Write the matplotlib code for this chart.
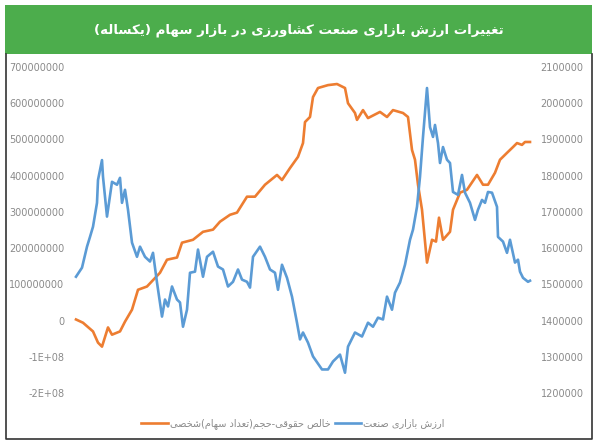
import matplotlib
matplotlib.use('Agg')
import matplotlib.pyplot as plt
from matplotlib.patches import Rectangle
from matplotlib.lines import Line2D

# data
title = 'تغییرات ارزش بازاری صنعت کشاورزی در بازار سهام (یکساله)'
label_orange = 'خالص حقوقی-حجم(تعداد سهام)شخصی'
label_blue = 'ارزش بازاری صنعت'

orange_day = [0, 7, 17, 22, 26, 32, 36, 44, 49, 56, 62, 71, 84, 91, 101, 106, 117, 127, 137, 144,
              154, 161, 171, 179, 189, 201, 206, 214, 222, 227, 229, 234, 237, 242, 252, 261, 269, 272, 279, 281,
              287, 292, 304, 311, 317, 327, 332, 336, 339, 342, 346, 351, 356, 360, 363, 367, 374, 377, 384, 391,
              401, 407, 412, 419, 424, 431, 437, 441, 446, 449, 454]
orange_val = [3, -6, -30, -61, -72, -19, -39, -30, -3, 30, 85, 94, 132, 168, 174, 215, 223, 245, 251, 273,
              292, 298, 342, 342, 375, 402, 388, 421, 452, 490, 548, 562, 617, 642, 650, 653, 642, 600, 573, 554,
              581, 559, 576, 562, 581, 573, 562, 471, 444, 375, 306, 160, 223, 218, 284, 223, 245, 306, 353, 361,
              402, 375, 375, 408, 444, 463, 479, 490, 485, 493, 493]  # millions

blue_day = [0, 6, 11, 14, 17, 21, 22, 26, 27, 31, 36, 41, 44, 46, 49, 52, 56, 61, 64, 69,
            74, 77, 81, 86, 89, 92, 96, 101, 104, 107, 111, 114, 119, 122, 127, 131, 137, 142, 147, 152,
            157, 162, 166, 171, 174, 177, 184, 189, 194, 199, 202, 206, 211, 216, 221, 224, 227, 232, 237, 246,
            252, 257, 264, 269, 272, 279, 286, 292, 297, 302, 307, 311, 316, 319, 324, 329, 334, 337, 341, 344,
            347, 351, 354, 357, 359, 362, 364, 367, 371, 374, 377, 382, 386, 389, 394, 399, 402, 406, 409, 412,
            416, 421, 422, 427, 431, 434, 439, 442, 444, 447, 452, 454]
blue_val = [1521, 1546, 1604, 1631, 1659, 1725, 1788, 1843, 1797, 1687, 1783, 1775, 1794, 1725, 1761, 1706, 1615, 1576, 1604, 1576,
            1563, 1587, 1505, 1411, 1458, 1439, 1494, 1458, 1450, 1383, 1430, 1532, 1535, 1596, 1521, 1576, 1590, 1549, 1541, 1494,
            1507, 1541, 1513, 1507, 1491, 1576, 1604, 1576, 1541, 1532, 1485, 1554, 1518, 1466, 1394, 1348, 1367, 1339, 1301, 1265,
            1265, 1287, 1306, 1256, 1328, 1367, 1356, 1394, 1383, 1408, 1403, 1466, 1430, 1477, 1505, 1554, 1623, 1651, 1714, 1797,
            1907, 2042, 1934, 1907, 1940, 1890, 1835, 1879, 1844, 1835, 1755, 1747, 1802, 1753, 1725, 1678, 1706, 1733, 1725, 1755,
            1753, 1714, 1631, 1618, 1587, 1623, 1560, 1568, 1535, 1518, 1507, 1510]  # thousands

left_ticks = [-200e6, -100e6, 0, 100e6, 200e6, 300e6, 400e6, 500e6, 600e6, 700e6]
left_labels = ['-2E+08', '-1E+08', '0', '100000000', '200000000', '300000000',
               '400000000', '500000000', '600000000', '700000000']
right_ticks = [1200000 + 100000 * i for i in range(10)]

# arabic presentation forms: isolated, final, initial, medial
FORMS = {
    'ا': ('\uFE8D', '\uFE8E', None, None),
    'ب': ('\uFE8F', '\uFE90', '\uFE91', '\uFE92'),
    'ت': ('\uFE95', '\uFE96', '\uFE97', '\uFE98'),
    'ج': ('\uFE9D', '\uFE9E', '\uFE9F', '\uFEA0'),
    'ح': ('\uFEA1', '\uFEA2', '\uFEA3', '\uFEA4'),
    'خ': ('\uFEA5', '\uFEA6', '\uFEA7', '\uFEA8'),
    'د': ('\uFEA9', '\uFEAA', None, None),
    'ر': ('\uFEAD', '\uFEAE', None, None),
    'ز': ('\uFEAF', '\uFEB0', None, None),
    'س': ('\uFEB1', '\uFEB2', '\uFEB3', '\uFEB4'),
    'ش': ('\uFEB5', '\uFEB6', '\uFEB7', '\uFEB8'),
    'ص': ('\uFEB9', '\uFEBA', '\uFEBB', '\uFEBC'),
    'ع': ('\uFEC9', '\uFECA', '\uFECB', '\uFECC'),
    'غ': ('\uFECD', '\uFECE', '\uFECF', '\uFED0'),
    'ق': ('\uFED5', '\uFED6', '\uFED7', '\uFED8'),
    'ل': ('\uFEDD', '\uFEDE', '\uFEDF', '\uFEE0'),
    'م': ('\uFEE1', '\uFEE2', '\uFEE3', '\uFEE4'),
    'ن': ('\uFEE5', '\uFEE6', '\uFEE7', '\uFEE8'),
    'ه': ('\uFEE9', '\uFEEA', '\uFEEB', '\uFEEC'),
    'و': ('\uFEED', '\uFEEE', None, None),
    'ی': ('\uFBFC', '\uFBFD', '\uFBFE', '\uFBFF'),
    'ک': ('\uFB8E', '\uFB8F', '\uFB90', '\uFB91'),
}


def rtl(text):
    out = []
    for i, ch in enumerate(text):
        if ch not in FORMS:
            out.append(ch)
            continue
        prev = text[i - 1] if i > 0 else ''
        nxt = text[i + 1] if i + 1 < len(text) else ''
        jp = prev in FORMS and FORMS[prev][2] is not None
        jn = FORMS[ch][2] is not None and nxt in FORMS
        f = FORMS[ch]
        if jp and jn:
            out.append(f[3])
        elif jp:
            out.append(f[1])
        elif jn:
            out.append(f[2])
        else:
            out.append(f[0])
    swap = {'(': ')', ')': '('}
    return ''.join(swap.get(c, c) for c in reversed(out))


plt.rcParams['font.family'] = ['DejaVu Sans']

fig = plt.figure(figsize=(5.97, 4.48), dpi=100)
W, H = 597, 448

# green banner + frame
fig.patches.append(Rectangle((5 / W, 1 - 54 / H), 587 / W, 49 / H, transform=fig.transFigure,
                             facecolor='#4cad4c', edgecolor='none', zorder=0))
fig.add_artist(Line2D([6 / W, 6 / W, 592 / W, 592 / W], [1 - 54 / H, 1 - 439 / H, 1 - 439 / H, 1 - 54 / H],
                      transform=fig.transFigure, color='#333333', lw=1.2))
fig.text(299 / W, 1 - 30 / H, rtl(title), color='white', fontsize=9.6, fontweight='bold',
         ha='center', va='center')

ax = fig.add_axes([70 / W, 1 - 393 / H, 465 / W, 326 / H])
ax2 = ax.twinx()

ln1, = ax.plot(orange_day, [v * 1e6 for v in orange_val], color='#ed7d31', lw=1.9)
ln2, = ax2.plot(blue_day, [v * 1e3 for v in blue_val], color='#5b9bd5', lw=1.9)

ax.set_xlim(-6, 459)
ax.set_ylim(-200e6, 700e6)
ax2.set_ylim(1200000, 2100000)
ax.set_yticks(left_ticks)
ax.set_yticklabels(left_labels)
ax2.set_yticks(right_ticks)
ax2.set_yticklabels([str(t) for t in right_ticks])
ax.set_xticks([])

for a in (ax, ax2):
    for s in a.spines.values():
        s.set_visible(False)
    a.tick_params(length=0, labelsize=7, labelcolor='#8a8a8a', pad=4)
    a.patch.set_visible(False)

fig.legend([ln1, ln2], [rtl(label_orange), rtl(label_blue)], ncol=2, loc='center',
           bbox_to_anchor=(293 / W, 1 - 424 / H), frameon=False, fontsize=7,
           labelcolor='#8a8a8a', handlelength=2.7, columnspacing=0.4, handletextpad=0.25)

fig.savefig('out.png', dpi=100)
